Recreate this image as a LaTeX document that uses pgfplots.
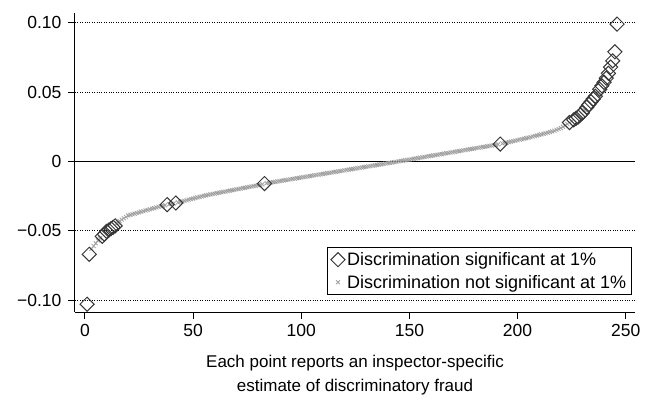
\documentclass[border=0pt]{standalone}
\usepackage{fontspec}
\setmainfont{Liberation Sans}
\usepackage{pgfplots}
\pgfplotsset{compat=1.18}
\definecolor{xgray}{RGB}{160,160,160}
\definecolor{dgray}{RGB}{55,55,55}
\begin{document}
\begin{tikzpicture}
\begin{axis}[
  at={(0,0)}, anchor=south west,
  scale only axis, width=560pt, height=299pt,
  xmin=-4.6, xmax=254.3, ymin=-0.1086, ymax=0.107,
  axis x line*=bottom, axis y line*=left,
  axis line style={black, line width=1pt, -},
  xtick={0,50,100,150,200,250},
  xticklabels={0,50,100,150,200,250},
  ytick={-0.1,-0.05,0,0.05,0.1},
  yticklabels={−0.10,−0.05,0,0.05,0.10},
  tick align=outside, major tick length=7pt,
  tick style={black, line width=1pt},
  ymajorgrids, grid style={black, dotted, line width=1pt},
  tick label style={font=\fontsize{17.5}{19}\selectfont},
  yticklabel style={xshift=-3pt},
  xticklabel style={yshift=-2pt},
  xlabel={Each point reports an inspector-specific\\estimate of discriminatory fraud},
  xlabel style={at={(axis description cs:0.5,0)}, anchor=north, yshift=-40pt, align=center, font=\fontsize{17}{24}\selectfont},
  legend style={at={(0.994,0.057)}, anchor=south east, draw=black, line width=0.9pt, fill=white,
    font=\fontsize{18}{21}\selectfont, row sep=4pt, inner sep=3pt},
  legend cell align=left,
]
\addlegendimage{only marks, mark=square, mark size=5pt, mark options={rotate=45, draw=dgray, line width=1pt, fill=none}}
\addlegendentry{Discrimination significant at 1\%}
\addlegendimage{only marks, mark=x, mark size=2.8pt, mark options={draw=xgray, line width=0.8pt}}
\addlegendentry{Discrimination not significant at 1\%}
\addplot[black, line width=1pt, forget plot] coordinates {(-4.6,0) (254.3,0)};
% not significant
\addplot[only marks, mark=x, mark size=2.8pt, mark options={draw=xgray, line width=0.8pt}, forget plot] coordinates {
(3,-0.0630) (4,-0.0610) (5,-0.0590) (6,-0.0570) (7,-0.0555)
(15,-0.0445) (16,-0.0430) (17,-0.0420) (18,-0.0410) (19,-0.0400) (20,-0.0390)
(21,-0.0386) (22,-0.0381) (23,-0.0377) (24,-0.0372) (25,-0.0368) (26,-0.0363) (27,-0.0359) (28,-0.0354) (29,-0.0350) (30,-0.0345)
(31,-0.0341) (32,-0.0337) (33,-0.0332) (34,-0.0328) (35,-0.0324) (36,-0.0320) (37,-0.0316)
(39,-0.0309) (40,-0.0306) (41,-0.0303)
(43,-0.0296) (44,-0.0292) (45,-0.0288) (46,-0.0284) (47,-0.0280) (48,-0.0276) (49,-0.0272) (50,-0.0268)
(51,-0.0264) (52,-0.0260) (53,-0.0256) (54,-0.0252) (55,-0.0248) (56,-0.0245) (57,-0.0241) (58,-0.0238) (59,-0.0235) (60,-0.0232)
(61,-0.0229) (62,-0.0226) (63,-0.0223) (64,-0.0220) (65,-0.0217) (66,-0.0214) (67,-0.0211) (68,-0.0208) (69,-0.0205) (70,-0.0202)
(71,-0.0199) (72,-0.0196) (73,-0.0193) (74,-0.0190) (75,-0.0187) (76,-0.0184) (77,-0.0181) (78,-0.0178) (79,-0.0175) (80,-0.0172)
(81,-0.0169) (82,-0.0165)
(84,-0.0157) (85,-0.0155) (86,-0.0152) (87,-0.0150) (88,-0.0147) (89,-0.0145) (90,-0.0142)
(91,-0.0139) (92,-0.0137) (93,-0.0134) (94,-0.0132) (95,-0.0129) (96,-0.0126) (97,-0.0124) (98,-0.0121) (99,-0.0119) (100,-0.0116)
(101,-0.0114) (102,-0.0111) (103,-0.0108) (104,-0.0106) (105,-0.0103) (106,-0.0101) (107,-0.0098) (108,-0.0095) (109,-0.0093) (110,-0.0090)
(111,-0.0088) (112,-0.0085) (113,-0.0083) (114,-0.0080) (115,-0.0077) (116,-0.0075) (117,-0.0072) (118,-0.0070) (119,-0.0067) (120,-0.0065)
(121,-0.0062) (122,-0.0059) (123,-0.0057) (124,-0.0054) (125,-0.0052) (126,-0.0049) (127,-0.0046) (128,-0.0044) (129,-0.0041) (130,-0.0039)
(131,-0.0036) (132,-0.0034) (133,-0.0031) (134,-0.0028) (135,-0.0026) (136,-0.0023) (137,-0.0021) (138,-0.0018) (139,-0.0015) (140,-0.0013)
(141,-0.0010) (142,-0.0008) (143,-0.0005) (144,-0.0003) (145,0.0000)
(146,0.0003) (147,0.0005) (148,0.0008) (149,0.0011) (150,0.0013)
(151,0.0016) (152,0.0019) (153,0.0021) (154,0.0024) (155,0.0027) (156,0.0029) (157,0.0032) (158,0.0035) (159,0.0037) (160,0.0040)
(161,0.0043) (162,0.0045) (163,0.0048) (164,0.0051) (165,0.0053) (166,0.0056) (167,0.0059) (168,0.0061) (169,0.0064) (170,0.0066)
(171,0.0069) (172,0.0072) (173,0.0074) (174,0.0077) (175,0.0080) (176,0.0082) (177,0.0085) (178,0.0088) (179,0.0090) (180,0.0093)
(181,0.0096) (182,0.0098) (183,0.0101) (184,0.0104) (185,0.0106) (186,0.0109) (187,0.0112) (188,0.0114) (189,0.0117) (190,0.0120)
(191,0.0122)
(193,0.0129) (194,0.0132) (195,0.0136) (196,0.0139) (197,0.0143) (198,0.0146) (199,0.0150) (200,0.0153)
(201,0.0157) (202,0.0160) (203,0.0164) (204,0.0167) (205,0.0171) (206,0.0175) (207,0.0179) (208,0.0183) (209,0.0187) (210,0.0191)
(211,0.0195) (212,0.0199) (213,0.0203) (214,0.0207) (215,0.0211) (216,0.0216) (217,0.0221) (218,0.0227) (219,0.0233) (220,0.0240)
(221,0.0250) (222,0.0260) (223,0.0270) (225,0.0290) (231,0.0370) (237,0.0495)
};
% significant
\addplot[only marks, mark=square, mark size=5pt, mark options={rotate=45, draw=dgray, line width=1pt, fill=none}, forget plot] coordinates {
(1,-0.1030) (2,-0.0670) (8,-0.0540) (9,-0.0525) (10,-0.0505) (11,-0.0495) (12,-0.0485) (13,-0.0475) (14,-0.0465)
(38,-0.0312) (42,-0.0300) (83,-0.0160) (192,0.0125)
(224,0.0280) (226,0.0300) (227,0.0310) (228,0.0320) (229,0.0335) (230,0.0350) (232,0.0390) (233,0.0410) (234,0.0430)
(235,0.0450) (236,0.0470) (238,0.0520) (239,0.0545) (240,0.0570) (241,0.0600) (242,0.0635) (243,0.0680) (244,0.0725)
(245,0.0790) (246,0.0990)
};
\end{axis}
\path (-75pt,-88pt) rectangle (576pt,312pt);
\end{tikzpicture}
\end{document}
